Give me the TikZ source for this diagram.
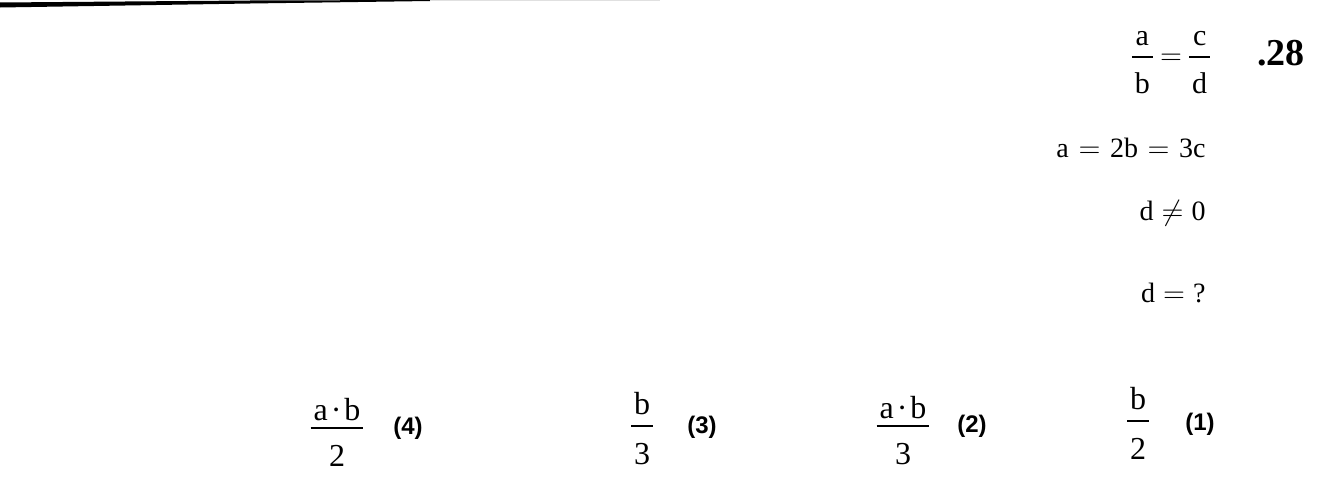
\documentclass[tikz,border=0pt]{standalone}
\usepackage{amsmath}
\usepackage{fontspec}
\setmainfont{Liberation Serif}
\newfontfamily\optfont{Liberation Sans}
\usepackage{tikz}
\usetikzlibrary{positioning}
\newcommand{\up}[1]{\text{#1}}
% fraction with a heavier bar, numerator shifted by #1, denominator by #2
\newcommand{\ofrac}[4]{\genfrac{}{}{1.1pt}{0}{\raisebox{#1}{\up{\kern1.5pt#3\kern1.5pt}}}{\raisebox{#2}{\up{\kern1.5pt#4\kern1.5pt}}}}

\begin{document}
\begin{tikzpicture}[x=0.5pt,y=-0.5pt,
  eq/.style={inner sep=0pt,anchor=base east,font=\fontsize{14}{17}\selectfont},
  frac/.style={inner sep=0pt,anchor=base,font=\fontsize{16}{19}\selectfont},
  opt/.style={inner sep=0pt,font=\optfont\bfseries\fontsize{12}{14}\selectfont}]
\useasboundingbox (0,0) rectangle (1341,503);
% scan edge at the top
\fill [black] (0,2.5) -- (250,0.5) -- (430,0) -- (430,1) -- (250,3.5) -- (0,7.5) -- cycle;
\draw [black!12, line width=0.6pt] (430,0.6) -- (660,0.6);
% question 28
\node[inner sep=0pt,anchor=base,font=\bfseries\fontsize{19}{22}\selectfont] (num) at (1281,65) {.28};
\node[inner sep=0pt,anchor=base,font=\fontsize{15}{18}\selectfont] (ratio) at (1171,64.5)
  {$\ofrac{0pt}{-4.5pt}{a}{b}\mkern-2mu=\mkern-2mu\ofrac{0pt}{-4.5pt}{c}{d}$};
\node[eq,execute at begin node={\thickmuskip=6mu}] (rel) at (1206,157) {$\up{a}=\up{2b}=\up{3c}$};
\node[eq] (nz) at (1206,220) {$\up{d}\neq\up{0}$};
\node[eq] (ask) at (1206,302) {$\up{d}=\up{?}$};
% answers
\node[frac] (f4) at (337,437) {$\ofrac{-4.5pt}{-3pt}{a\kern1.5pt·\kern1.5pt b}{2}$};
\node[opt] (o4) at (408,428) {(4)};
\node[frac] (f3) at (642,435) {$\ofrac{-1.5pt}{-3pt}{b}{3}$};
\node[opt] (o3) at (702,427) {(3)};
\node[frac] (f2) at (903,435) {$\ofrac{-4.5pt}{-3pt}{a\kern1.5pt·\kern1.5pt b}{3}$};
\node[opt] (o2) at (972,426) {(2)};
\node[frac] (f1) at (1138,430) {$\ofrac{-1.5pt}{-3pt}{b}{2}$};
\node[opt] (o1) at (1200,424) {(1)};
\end{tikzpicture}
\end{document}
